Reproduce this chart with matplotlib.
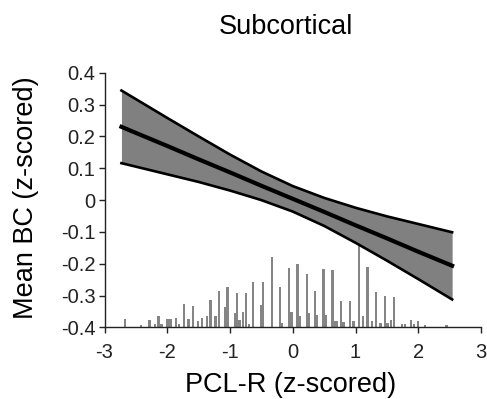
"""
Subcortical: mean BC vs PCL-R, fitted line with confidence band and
a histogram of PCL-R scores along the bottom.
"""

import matplotlib
matplotlib.use("Agg")
import matplotlib.pyplot as plt

OUT_PATH = "out.png"

# fitted line and confidence band
fit_x = [-2.73, -2.5, -2.0, -1.5, -1.0, -0.5, 0.0, 0.5, 1.0, 1.5, 2.0, 2.54]
fit_mean = [0.230, 0.211, 0.170, 0.128, 0.087, 0.045, 0.004, -0.037, -0.079, -0.120, -0.162, -0.206]
fit_upper = [0.344, 0.317, 0.258, 0.200, 0.143, 0.090, 0.044, 0.007, -0.024, -0.051, -0.075, -0.101]
fit_lower = [0.116, 0.105, 0.081, 0.057, 0.030, 0.000, -0.036, -0.081, -0.134, -0.190, -0.248, -0.312]

# histogram of PCL-R (bar centre, height above the -0.4 baseline)
hist_x = [-2.67, -2.42, -2.285, -2.19, -2.14, -2.09, -2.01, -1.97, -1.94, -1.86,
          -1.81, -1.73, -1.66, -1.59, -1.51, -1.45, -1.37, -1.31, -1.23, -1.17,
          -1.08, -1.04, -0.92, -0.89, -0.85, -0.79, -0.75, -0.70, -0.63, -0.50,
          -0.47, -0.33, -0.20, -0.17, -0.06, -0.02, 0.075, 0.12, 0.225, 0.25,
          0.357, 0.39, 0.49, 0.53, 0.633, 0.67, 0.70, 0.77, 0.81, 0.915,
          0.97, 1.06, 1.12, 1.19, 1.26, 1.33, 1.40, 1.47, 1.51, 1.57,
          1.61, 1.74, 1.79, 1.89, 1.93, 2.00, 2.11, 2.45]
hist_h = [0.026, 0.009, 0.025, 0.012, 0.036, 0.010, 0.026, 0.026, 0.026, 0.031,
          0.012, 0.074, 0.026, 0.069, 0.021, 0.031, 0.036, 0.086, 0.036, 0.116,
          0.064, 0.128, 0.045, 0.107, 0.025, 0.050, 0.107, 0.012, 0.144, 0.072,
          0.144, 0.220, 0.128, 0.015, 0.186, 0.050, 0.200, 0.035, 0.168, 0.045,
          0.114, 0.040, 0.184, 0.040, 0.180, 0.020, 0.020, 0.084, 0.018, 0.084,
          0.020, 0.255, 0.035, 0.190, 0.020, 0.112, 0.015, 0.100, 0.015, 0.025,
          0.097, 0.010, 0.010, 0.025, 0.010, 0.020, 0.008, 0.008]

x_ticks = [-3, -2, -1, 0, 1, 2, 3]
y_ticks = [-0.4, -0.3, -0.2, -0.1, 0, 0.1, 0.2, 0.3, 0.4]
y_tick_labels = ["-0.4", "-0.3", "-0.2", "-0.1", "0", "0.1", "0.2", "0.3", "0.4"]


def main():
    plt.rcParams["font.family"] = ["Liberation Sans", "DejaVu Sans"]
    plt.rcParams["axes.unicode_minus"] = False

    fig = plt.figure(figsize=(4.87, 3.99), dpi=100)
    ax = fig.add_axes([0.2146, 0.1792, 0.7731, 0.6386])

    ax.bar(hist_x, hist_h, width=0.036, bottom=-0.4, color="#858585", linewidth=0, zorder=1)

    ax.fill_between(fit_x, fit_lower, fit_upper, color="#808080", linewidth=0, zorder=2)
    ax.plot(fit_x, fit_upper, color="black", linewidth=1.9, zorder=3)
    ax.plot(fit_x, fit_lower, color="black", linewidth=1.9, zorder=3)
    ax.plot(fit_x, fit_mean, color="black", linewidth=3.0, zorder=4)

    ax.set_xlim(-3, 3)
    ax.set_ylim(-0.4, 0.4)
    ax.set_xticks(x_ticks)
    ax.set_xticklabels([str(t) for t in x_ticks])
    ax.set_yticks(y_ticks)
    ax.set_yticklabels(y_tick_labels)

    for side in ("top", "right"):
        ax.spines[side].set_visible(False)
    for side in ("left", "bottom"):
        ax.spines[side].set_color("#222222")
        ax.spines[side].set_linewidth(1.0)
    ax.tick_params(axis="both", direction="out", length=4, width=1.0, color="#222222",
                   labelsize=14.5, labelcolor="#222222")
    ax.tick_params(axis="x", pad=7)
    ax.tick_params(axis="y", pad=2.5)

    fig.text(0.587, 0.932, "Subcortical", ha="center", va="center", fontsize=19.5)
    fig.text(0.596, 0.035, "PCL-R (z-scored)", ha="center", va="center", fontsize=19.5)
    fig.text(0.053, 0.505, "Mean BC (z-scored)", ha="center", va="center",
             rotation=90, fontsize=19.5)

    fig.savefig(OUT_PATH, dpi=100)


if __name__ == "__main__":
    main()
